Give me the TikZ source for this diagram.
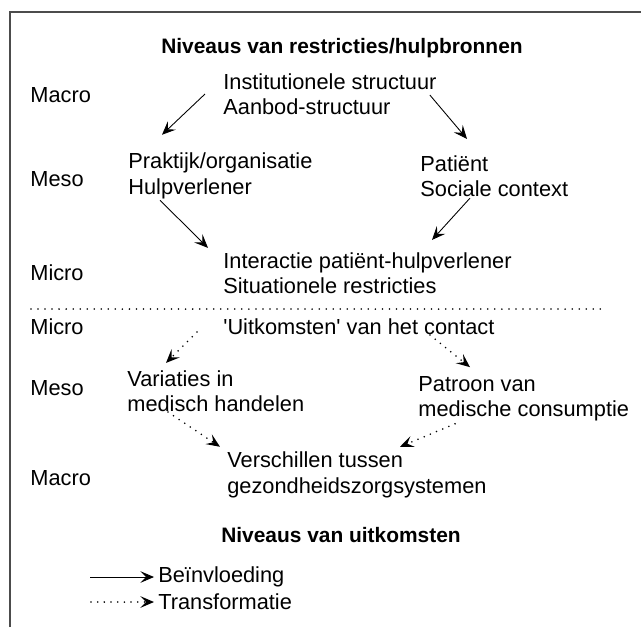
\documentclass[tikz,border=0pt]{standalone}
\usepackage{fontspec}
\setmainfont{Liberation Sans}
\usetikzlibrary{arrows.meta}
\tikzset{
  txt/.style={anchor=west, inner sep=0pt, align=left, font=\fontsize{12.4pt}{14.5pt}\selectfont},
  kop/.style={inner sep=0pt, font=\fontsize{11.9pt}{14pt}\selectfont\bfseries},
  infl/.style={-{Stealth[length=0.27cm,width=0.23cm,inset=0.11cm]}, line width=0.5pt},
  trans/.style={infl, line width=1pt, line cap=round, dash pattern=on 0pt off 3.8pt},
}

\begin{document}
\begin{tikzpicture}[x=0.02cm, y=-0.02cm]
  \useasboundingbox (0,0) rectangle (641,627);
  % frame (top and left only)
  \draw[gray!60!black, line width=0.8pt] (10,627) -- (10,12) -- (641,12);

  % titles
  \node[kop] (titleR) at (342,48) {Niveaus van restricties/hulpbronnen};
  \node[kop] (titleU) at (341,535) {Niveaus van uitkomsten};

  % level labels on the left
  \foreach \lab/\yy/\nm in {Macro/95/lvA, Meso/179/lvB, Micro/273/lvC,
                            Micro/327/lvD, Meso/388/lvE, Macro/478/lvF}{
    \node[txt] (\nm) at (30,\yy) {\lab};
  }

  % restricties/hulpbronnen
  \node[txt] (inst)  at (223,94)  {Institutionele structuur\\Aanbod-structuur};
  \node[txt] (prak)  at (128,176) {Praktijk/organisatie\\Hulpverlener};
  \node[txt] (pat)   at (420,176) {Patiënt\\Sociale context};
  \node[txt] (inter) at (223,273) {Interactie patiënt-hulpverlener\\Situationele restricties};

  \draw[infl] ([shift={(-18,0)}]inst.west) -- ([shift={(34,-18)}]prak.north west);
  \draw[infl] ([shift={(-7,1)}]inst.east) -- ([shift={(47,-16)}]pat.north west);
  \draw[infl] ([shift={(32,1)}]prak.south west) -- ([shift={(-15,-4)}]inter.north west);
  \draw[infl] ([shift={(50,1)}]pat.south west) -- ([shift={(209,-12)}]inter.north west);

  % separator
  \draw[line width=1pt, line cap=round, dash pattern=on 0pt off 4pt] (31,309) -- (603,309);

  % uitkomsten
  \node[txt] (uitk)   at (223,327) {\textquotesingle Uitkomsten\textquotesingle\ van het contact};
  \node[txt] (var)    at (127,391) {Variaties in\\medisch handelen};
  \node[txt] (patr)   at (418,399) {Patroon van\\medische consumptie};
  \node[txt] (versch) at (227,475) {Verschillen tussen\\gezondheidszorgsystemen};

  \draw[trans] ([shift={(-26,5)}]uitk.west) -- ([shift={(39,-7)}]var.north west);
  \draw[trans] ([shift={(207,8)}]uitk.west) -- ([shift={(52,-9)}]patr.north west);
  \draw[trans] ([shift={(41,0)}]var.south west) -- ([shift={(-7,-5)}]versch.north west);
  \draw[trans] ([shift={(37,2)}]patr.south west) -- ([shift={(173,-5)}]versch.north west);

  % legend
  \coordinate (legA) at (90,577);
  \coordinate (legB) at (91,602);
  \node[txt] (legInfl)  at (158,577) {Beïnvloeding};
  \node[txt] (legTrans) at (158,602) {Transformatie};
  \draw[infl]  (legA) -- ([shift={(-4,0)}]legInfl.west);
  \draw[trans] (legB) -- ([shift={(-4,0)}]legTrans.west);
\end{tikzpicture}
\end{document}
